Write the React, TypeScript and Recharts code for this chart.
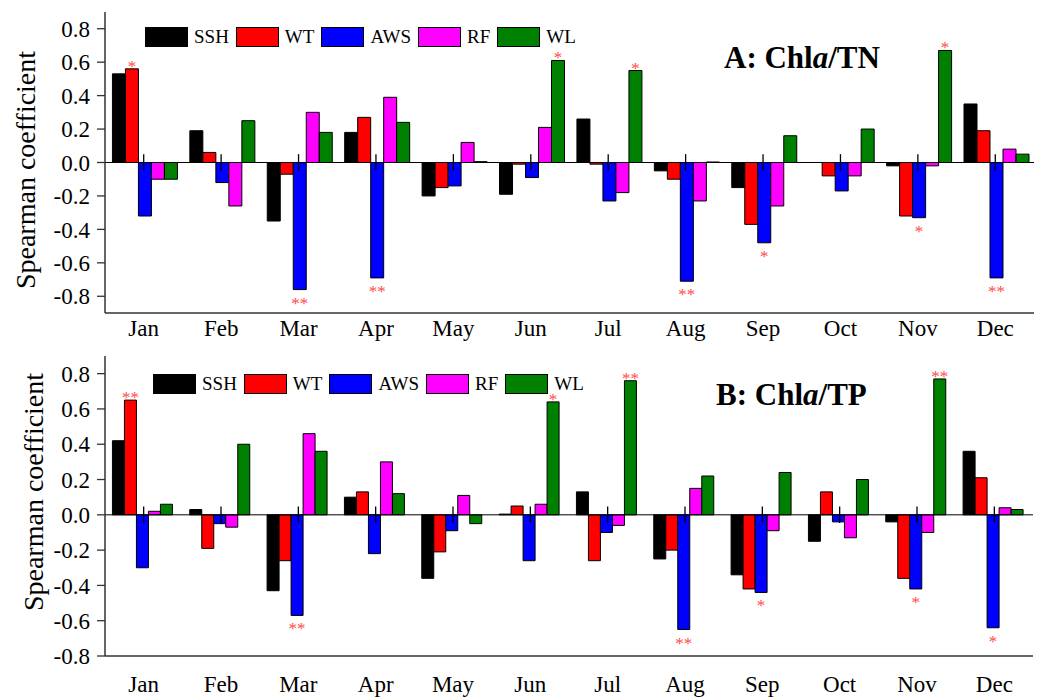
import React from 'react';
import { BarChart, Bar, XAxis, YAxis, ReferenceLine, Legend, LabelList } from 'recharts';

const FONT = '"Liberation Serif", "Times New Roman", Times, serif';

const months = ['Jan', 'Feb', 'Mar', 'Apr', 'May', 'Jun', 'Jul', 'Aug', 'Sep', 'Oct', 'Nov', 'Dec'];
const seriesKeys = ['SSH', 'WT', 'AWS', 'RF', 'WL'];

// Chla/TN correlations
const tnSSH = [0.53, 0.19, -0.35, 0.18, -0.2, -0.19, 0.26, -0.05, -0.15, 0, -0.02, 0.35];
const tnWT = [0.56, 0.06, -0.07, 0.27, -0.15, -0.01, -0.01, -0.1, -0.37, -0.08, -0.32, 0.19];
const tnAWS = [-0.32, -0.12, -0.76, -0.69, -0.14, -0.09, -0.23, -0.71, -0.48, -0.17, -0.33, -0.69];
const tnRF = [-0.1, -0.26, 0.3, 0.39, 0.12, 0.21, -0.18, -0.23, -0.26, -0.08, -0.02, 0.08];
const tnWL = [-0.1, 0.25, 0.18, 0.24, 0.005, 0.61, 0.55, 0.003, 0.16, 0.2, 0.67, 0.05];
const tnWTSig = ['*', '', '', '', '', '', '', '', '', '', '', ''];
const tnAWSSig = ['', '', '**', '**', '', '', '', '**', '*', '', '*', '**'];
const tnWLSig = ['', '', '', '', '', '*', '*', '', '', '', '*', ''];

// Chla/TP correlations
const tpSSH = [0.42, 0.03, -0.43, 0.1, -0.36, 0.004, 0.13, -0.25, -0.34, -0.15, -0.04, 0.36];
const tpWT = [0.65, -0.19, -0.26, 0.13, -0.21, 0.05, -0.26, -0.2, -0.42, 0.13, -0.36, 0.21];
const tpAWS = [-0.3, -0.05, -0.57, -0.22, -0.09, -0.26, -0.1, -0.65, -0.44, -0.04, -0.42, -0.64];
const tpRF = [0.02, -0.07, 0.46, 0.3, 0.11, 0.06, -0.06, 0.15, -0.09, -0.13, -0.1, 0.04];
const tpWL = [0.06, 0.4, 0.36, 0.12, -0.05, 0.64, 0.76, 0.22, 0.24, 0.2, 0.77, 0.03];
const tpWTSig = ['**', '', '', '', '', '', '', '', '', '', '', ''];
const tpAWSSig = ['', '', '**', '', '', '', '', '**', '*', '', '*', '*'];
const tpWLSig = ['', '', '', '', '', '*', '**', '', '', '', '**', ''];

const tnTicks = [-0.8, -0.6, -0.4, -0.2, 0, 0.2, 0.4, 0.6, 0.8];
const tpTicks = [-0.8, -0.6, -0.4, -0.2, 0, 0.2, 0.4, 0.6, 0.8];

const colors = { SSH: '#000000', WT: '#ff0000', AWS: '#0000ff', RF: '#ff00ff', WL: '#008000' };

const buildRows = (
  ssh: number[], wt: number[], aws: number[], rf: number[], wl: number[],
  wtSig: string[], awsSig: string[], wlSig: string[],
) =>
  months.map((month, i) => ({
    month,
    SSH: ssh[i],
    WT: wt[i],
    AWS: aws[i],
    RF: rf[i],
    WL: wl[i],
    WTSig: wtSig[i],
    AWSSig: awsSig[i],
    WLSig: wlSig[i],
  }));

const tnRows = buildRows(tnSSH, tnWT, tnAWS, tnRF, tnWL, tnWTSig, tnAWSSig, tnWLSig);
const tpRows = buildRows(tpSSH, tpWT, tpAWS, tpRF, tpWL, tpWTSig, tpAWSSig, tpWLSig);

// significance stars above positive bars, below negative ones
const starLabel = (values: number[]) => (props: any) => {
  const vb = props.viewBox || props;
  const { x, y, width, height } = vb;
  const { index, value } = props;
  if (!value) return null;
  const top = Math.min(y, y + height);
  const bottom = Math.max(y, y + height);
  const up = values[index] >= 0;
  return (
    <text
      x={x + width / 2}
      y={up ? top + 3 : bottom + 19}
      textAnchor="middle"
      fill="#ff4a4a"
      fontSize={17}
      fontFamily={FONT}
    >
      {value}
    </text>
  );
};

// legend in series order (SSH, WT, AWS, RF, WL)
const legendContent = (props: any) => {
  const items = [...(props.payload || [])].sort(
    (a: any, b: any) => seriesKeys.indexOf(a.value) - seriesKeys.indexOf(b.value),
  );
  return (
    <div style={{ display: 'flex', alignItems: 'center', fontFamily: FONT, fontSize: 19, lineHeight: '20px', whiteSpace: 'nowrap', color: '#000' }}>
      {items.map((p: any) => (
        <div key={p.value} style={{ display: 'flex', alignItems: 'center', marginRight: 7 }}>
          <span
            style={{
              width: 43,
              height: 20,
              background: p.color,
              border: '1px solid #000',
              boxSizing: 'border-box',
              marginRight: 6,
            }}
          />
          <span>{p.value}</span>
        </div>
      ))}
    </div>
  );
};

interface PanelProps {
  rows: typeof tnRows;
  values: { WT: number[]; AWS: number[]; WL: number[] };
  domain: [number, number];
  ticks: number[];
  top: number;
  height: number;
  margin: { top: number; right: number; bottom: number };
  tickGap: number;
  zeroTick: number;
  legendPos: { left: number; top: number };
  title: string;
  titlePos: { left: number; top: number };
  labelPos: { x: number; y: number };
}

const Panel = (p: PanelProps) => (
  <div style={{ position: 'absolute', left: 0, top: p.top, width: 1042, height: p.height, fontFamily: FONT }}>
    <BarChart
      width={1042}
      height={p.height}
      data={p.rows}
      margin={{ top: p.margin.top, right: p.margin.right, bottom: 0, left: 0 }}
      barCategoryGap="9.6%"
      barGap={0}
      style={{ fontFamily: FONT }}
    >
      <XAxis
        dataKey="month"
        height={p.margin.bottom}
        tickSize={0}
        tickLine={false}
        tickMargin={p.tickGap}
        axisLine={{ stroke: '#333', strokeWidth: 1.5 }}
        tick={{ fill: '#000', fontSize: 23, fontFamily: FONT }}
        interval={0}
      />
      <XAxis
        xAxisId="top"
        dataKey="month"
        orientation="top"
        height={0}
        tick={false}
        mirror
        tickSize={3}
        tickLine={{ stroke: '#333' }}
        axisLine={{ stroke: '#333', strokeWidth: 1.5 }}
      />
      <YAxis
        type="number"
        domain={p.domain}
        ticks={p.ticks}
        allowDataOverflow
        width={105}
        tickSize={8}
        tickMargin={7}
        tickFormatter={(v: number) => v.toFixed(1)}
        tick={{ fill: '#000', fontSize: 23, fontFamily: FONT }}
        tickLine={{ stroke: '#333', strokeWidth: 1.3 }}
        axisLine={{ stroke: '#333', strokeWidth: 1.5 }}
      />
      <YAxis
        yAxisId="right"
        orientation="right"
        type="number"
        domain={p.domain}
        ticks={p.ticks}
        allowDataOverflow
        width={0}
        mirror
        tick={false}
        tickSize={3}
        tickLine={{ stroke: '#333' }}
        axisLine={{ stroke: '#333', strokeWidth: 1.5 }}
      />
      <Legend
        layout="vertical"
        align="center"
        verticalAlign="middle"
        content={legendContent}
        wrapperStyle={{ left: p.legendPos.left, top: p.legendPos.top, width: 'auto', height: 'auto' }}
      />
      <ReferenceLine y={0} stroke="#000" strokeWidth={1} />
      {months.map((m) => (
        <ReferenceLine
          key={m}
          segment={[{ x: m, y: -p.zeroTick }, { x: m, y: p.zeroTick }]}
          stroke="#000"
          strokeWidth={1.3}
        />
      ))}
      <Bar dataKey="SSH" fill={colors.SSH} stroke="#000" strokeWidth={1} isAnimationActive={false} />
      <Bar dataKey="WT" fill={colors.WT} stroke="#000" strokeWidth={1} isAnimationActive={false}>
        <LabelList dataKey="WTSig" content={starLabel(p.values.WT)} />
      </Bar>
      <Bar dataKey="AWS" fill={colors.AWS} stroke="#000" strokeWidth={1} isAnimationActive={false}>
        <LabelList dataKey="AWSSig" content={starLabel(p.values.AWS)} />
      </Bar>
      <Bar dataKey="RF" fill={colors.RF} stroke="#000" strokeWidth={1} isAnimationActive={false} />
      <Bar dataKey="WL" fill={colors.WL} stroke="#000" strokeWidth={1} isAnimationActive={false}>
        <LabelList dataKey="WLSig" content={starLabel(p.values.WL)} />
      </Bar>
    </BarChart>
    <div
      style={{
        position: 'absolute',
        left: p.titlePos.left,
        top: p.titlePos.top,
        fontFamily: FONT,
        fontWeight: 'bold',
        fontSize: 31,
        lineHeight: '31px',
        whiteSpace: 'nowrap',
        color: '#000',
      }}
    >
      {p.title.split('a/')[0]}
      <i>a</i>/{p.title.split('a/')[1]}
    </div>
    <div
      style={{
        position: 'absolute',
        left: p.labelPos.x,
        top: p.labelPos.y,
        transform: 'translate(-50%, -50%) rotate(-90deg)',
        fontFamily: FONT,
        fontSize: 28,
        whiteSpace: 'nowrap',
        color: '#000',
      }}
    >
      Spearman coefficient
    </div>
  </div>
);

export default function App() {
  return (
    <div style={{ position: 'absolute', left: 0, top: 0, width: 1042, height: 698, background: '#fff', fontFamily: FONT }}>
      <Panel
        rows={tnRows}
        values={{ WT: tnWT, AWS: tnAWS, WL: tnWL }}
        domain={[-0.9, 0.9]}
        ticks={tnTicks}
        top={0}
        height={345}
        margin={{ top: 12, right: 8, bottom: 32 }}
        tickGap={7}
        zeroTick={0.05}
        legendPos={{ left: 145, top: 27 }}
        title="A: Chla/TN"
        titlePos={{ left: 724, top: 42 }}
        labelPos={{ x: 26, y: 170 }}
      />
      <Panel
        rows={tpRows}
        values={{ WT: tpWT, AWS: tpAWS, WL: tpWL }}
        domain={[-0.8, 0.9]}
        ticks={tpTicks}
        top={345}
        height={353}
        margin={{ top: 11, right: 9, bottom: 42 }}
        tickGap={20}
        zeroTick={0.047}
        legendPos={{ left: 153, top: 29 }}
        title="B: Chla/TP"
        titlePos={{ left: 716, top: 34 }}
        labelPos={{ x: 34, y: 147 }}
      />
    </div>
  );
}
